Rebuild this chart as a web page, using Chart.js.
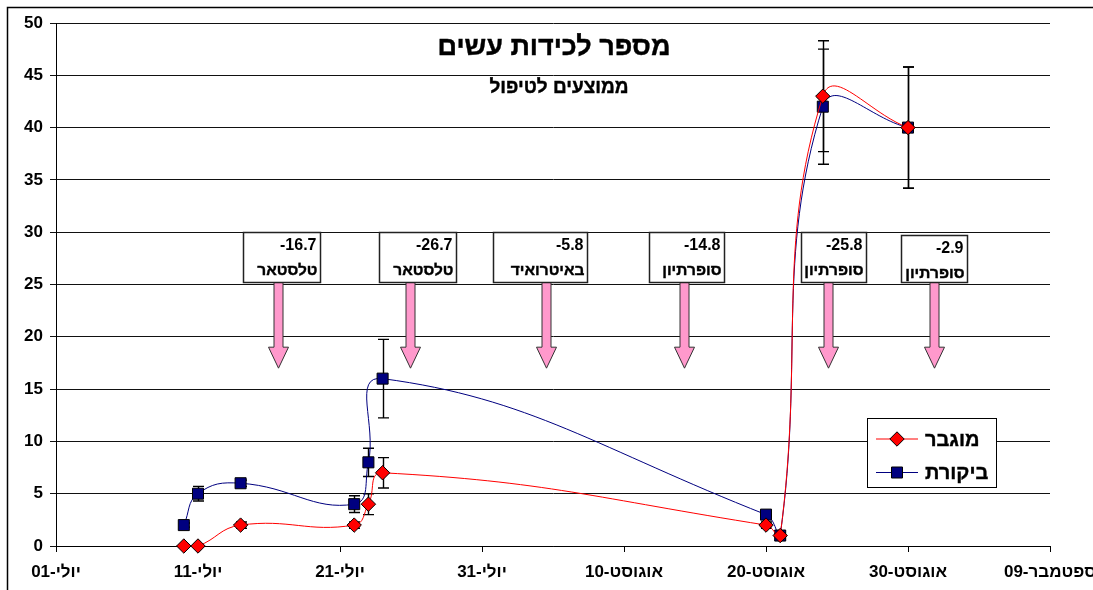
<!DOCTYPE html>
<html>
<head>
<meta charset="utf-8">
<script src="https://cdn.jsdelivr.net/npm/chart.js@4.4.1/dist/chart.umd.min.js"></script>
<style>
  html, body { margin: 0; padding: 0; background: #fff; overflow: hidden; }
  #wrap { width: 1093px; height: 590px; }
  canvas { display: block; }
</style>
</head>
<body>
<div id="wrap"><canvas id="c" width="1093" height="590" dir="rtl"></canvas></div>
<script>
// ---- data ----
const sampleDates = ['07-10','07-11','07-14','07-22','07-23','07-24','08-20','08-21','08-24','08-30'];
const boostedValues = [0, 0, 2, 2, 4, 7, 2, 1, 43, 40];          // מוגבר
const boostedErrors = [0, 0, 0.3, 0.3, 1.0, 1.45, 0.3, 0.3, 5.3, 5.8];
const controlValues = [2, 5, 6, 4, 8, 16, 3, 1, 42, 40];          // ביקורת
const controlErrors = [0.2, 0.7, 0.3, 0.8, 1.35, 3.75, 0.3, 0.3, 5.5, 5.8];
const seriesNames = ['מוגבר', 'ביקורת'];
const xTickLabels = ['יולי-01','יולי-11','יולי-21','יולי-31','אוגוסט-10','אוגוסט-20','אוגוסט-30','ספטמבר-09'];
const treatmentValues = ['-16.7', '-26.7', '-5.8', '-14.8', '-25.8', '-2.9'];
const treatmentNames = ['טלסטאר', 'טלסטאר', 'באיטרואיד', 'סופרתיון', 'סופרתיון', 'סופרתיון'];
const treatmentDays = [15.6, 24.9, 34.5, 44.2, 54.4, 61.8];
const titleText = 'מספר לכידות עשים';
const subtitleText = 'ממוצעים לטיפול';

// ---- layout/style (not data) ----
const boxOffsets = [[-35, 42], [-31, 46], [-53, 41], [-35, 40], [-27, 38], [-33, 33]];
const boxTopShift = [0, 0, 0, 0, 0, 2.5];
const FONT = '"Liberation Sans", Arial, "DejaVu Sans", sans-serif';

function dayOffset(md) {
  const [m, d] = md.split('-').map(Number);
  const start = [0, 0, 0, 0, 0, 0, 0, 0, 31, 62];
  return start[m] + d - 1;
}
const xs = sampleDates.map(dayOffset);
const boostedData = xs.map((x, i) => ({ x: x, y: boostedValues[i] }));
const controlData = xs.map((x, i) => ({ x: x, y: controlValues[i] }));

function boldText(ctx, text, x, y) {
  ctx.fillText(text, x, y);
  ctx.lineWidth = 0.4;
  ctx.strokeStyle = ctx.fillStyle;
  ctx.strokeText(text, x, y);
}

const decor = {
  id: 'decor',
  beforeDraw(chart) {
    const ctx = chart.ctx;
    ctx.save();
    ctx.fillStyle = '#fff';
    ctx.fillRect(0, 0, chart.width, chart.height);
    ctx.strokeStyle = '#000';
    ctx.lineWidth = 1.5;
    ctx.strokeRect(7.5, 7.5, chart.width + 20, chart.height + 20);
    ctx.restore();
  },
  beforeDatasetsDraw(chart) {
    const ctx = chart.ctx;
    const xS = chart.scales.x, yS = chart.scales.y;
    ctx.save();
    treatmentDays.forEach((d, i) => {
      const ax = Math.round(xS.getPixelForValue(d)) + 0.5;
      const top = Math.round(yS.getPixelForValue(30) + boxTopShift[i]) + 0.5;
      const bottom = Math.round(yS.getPixelForValue(25.2)) + 0.5;
      const left = ax + boxOffsets[i][0], right = ax + boxOffsets[i][1];
      const tip = yS.getPixelForValue(17);
      const headTop = tip - 21;
      ctx.beginPath();
      ctx.moveTo(ax - 4.5, bottom);
      ctx.lineTo(ax + 4.5, bottom);
      ctx.lineTo(ax + 4.5, headTop);
      ctx.lineTo(ax + 10, headTop);
      ctx.lineTo(ax, tip);
      ctx.lineTo(ax - 10, headTop);
      ctx.lineTo(ax - 4.5, headTop);
      ctx.closePath();
      ctx.fillStyle = '#FF99CC';
      ctx.fill();
      ctx.strokeStyle = '#333';
      ctx.lineWidth = 1;
      ctx.stroke();
      ctx.fillStyle = '#fff';
      ctx.fillRect(left, top, right - left, bottom - top);
      ctx.strokeStyle = '#222';
      ctx.lineWidth = 1.5;
      ctx.strokeRect(left, top, right - left, bottom - top);
      ctx.fillStyle = '#000';
      ctx.textAlign = 'right';
      ctx.textBaseline = 'middle';
      ctx.font = 'bold 16px ' + FONT;
      ctx.direction = 'ltr';
      ctx.fillText(treatmentValues[i], right - 4, top + 13);
      ctx.direction = 'rtl';
      ctx.font = 'bold 15.5px ' + FONT;
      boldText(ctx, treatmentNames[i], right - 3, top + 38);
    });
    const drawErr = (vals, errs) => {
      vals.forEach((v, i) => {
        const e = errs[i];
        if (!e) return;
        const px = Math.round(xS.getPixelForValue(xs[i])) + 0.5;
        const y1 = yS.getPixelForValue(v + e), y2 = yS.getPixelForValue(v - e);
        ctx.beginPath();
        ctx.moveTo(px, y1); ctx.lineTo(px, y2);
        ctx.moveTo(px - 5.5, y1); ctx.lineTo(px + 5.5, y1);
        ctx.moveTo(px - 5.5, y2); ctx.lineTo(px + 5.5, y2);
        ctx.strokeStyle = '#000';
        ctx.lineWidth = 1.4;
        ctx.stroke();
      });
    };
    drawErr(boostedValues, boostedErrors);
    drawErr(controlValues, controlErrors);
    ctx.restore();
  },
  afterDraw(chart) {
    const ctx = chart.ctx;
    ctx.save();
    ctx.fillStyle = '#000';
    ctx.textAlign = 'center';
    ctx.textBaseline = 'middle';
    ctx.direction = 'rtl';
    ctx.font = 'bold 27px ' + FONT;
    boldText(ctx, titleText, 554, 48);
    ctx.font = 'bold 19px ' + FONT;
    boldText(ctx, subtitleText, 559, 88);
    const L = 867.5, T = 418.5, W = 129, H = 69;
    ctx.fillStyle = '#fff';
    ctx.fillRect(L, T, W, H);
    ctx.strokeStyle = '#000';
    ctx.lineWidth = 1;
    ctx.strokeRect(L, T, W, H);
    const rows = [
      { y: 439, color: '#FF0000', style: 'diamond', name: seriesNames[0] },
      { y: 472.5, color: '#000080', style: 'square', name: seriesNames[1] }
    ];
    rows.forEach(r => {
      ctx.beginPath();
      ctx.moveTo(876, r.y); ctx.lineTo(918, r.y);
      ctx.strokeStyle = r.color;
      ctx.lineWidth = 1;
      ctx.stroke();
      ctx.beginPath();
      if (r.style === 'diamond') {
        ctx.moveTo(897, r.y - 7.2); ctx.lineTo(904.2, r.y); ctx.lineTo(897, r.y + 7.2); ctx.lineTo(889.8, r.y);
        ctx.closePath();
      } else {
        ctx.rect(891.5, r.y - 5.5, 11, 11);
      }
      ctx.fillStyle = r.color;
      ctx.fill();
      ctx.strokeStyle = '#000';
      ctx.lineWidth = 1;
      ctx.stroke();
      ctx.fillStyle = '#000';
      ctx.font = 'bold 20px ' + FONT;
      ctx.textAlign = 'left';
      ctx.direction = 'rtl';
      ctx.textBaseline = 'middle';
      boldText(ctx, r.name, 925, r.y + 1);
    });
    ctx.restore();
  }
};

new Chart(document.getElementById('c'), {
  type: 'line',
  data: {
    datasets: [
      {
        label: seriesNames[0],
        data: boostedData,
        borderColor: '#FF0000',
        backgroundColor: '#FF0000',
        borderWidth: 1,
        tension: 0.45,
        clip: false,
        pointStyle: 'rectRot',
        pointRadius: 7.2,
        pointHoverRadius: 7.2,
        pointBorderColor: '#000',
        pointBorderWidth: 1,
        pointBackgroundColor: '#FF0000',
        fill: false
      },
      {
        label: seriesNames[1],
        data: controlData,
        borderColor: '#000080',
        backgroundColor: '#000080',
        borderWidth: 1,
        tension: 0.45,
        clip: false,
        pointStyle: 'rect',
        pointRadius: 7.8,
        pointHoverRadius: 7.8,
        pointBorderColor: '#000',
        pointBorderWidth: 1,
        pointBackgroundColor: '#000080',
        fill: false
      }
    ]
  },
  options: {
    responsive: false,
    animation: false,
    events: [],
    layout: { padding: { top: 23, right: 43, left: 0, bottom: 0 }, autoPadding: false },
    plugins: { legend: { display: false }, title: { display: false }, tooltip: { enabled: false } },
    scales: {
      x: {
        type: 'linear',
        min: 0, max: 70,
        afterFit(s) { s.height = 44; s.paddingLeft = 0; s.paddingRight = 0; },
        afterBuildTicks(s) { s.ticks = xTickLabels.map((_, i) => ({ value: i * 10 })); },
        ticks: {
          stepSize: 10,
          autoSkip: false,
          maxRotation: 0,
          padding: 10,
          color: '#000',
          font: { family: FONT, size: 17, weight: 'bold' },
          callback: (v) => xTickLabels[Math.round(v / 10)]
        },
        grid: { drawOnChartArea: false, drawTicks: true, tickLength: 6, color: '#000', lineWidth: 1 },
        border: { display: true, color: '#000', width: 1 }
      },
      y: {
        min: 0, max: 50,
        afterFit(s) { s.width = 56; s.paddingTop = 0; s.paddingBottom = 0; },
        ticks: {
          stepSize: 5,
          padding: 7,
          color: '#000',
          font: { family: FONT, size: 17, weight: 'bold' }
        },
        grid: { drawOnChartArea: true, drawTicks: true, tickLength: 6, color: '#111', lineWidth: 1 },
        border: { display: true, color: '#000', width: 1 }
      }
    }
  },
  plugins: [decor]
});
</script>
</body>
</html>
